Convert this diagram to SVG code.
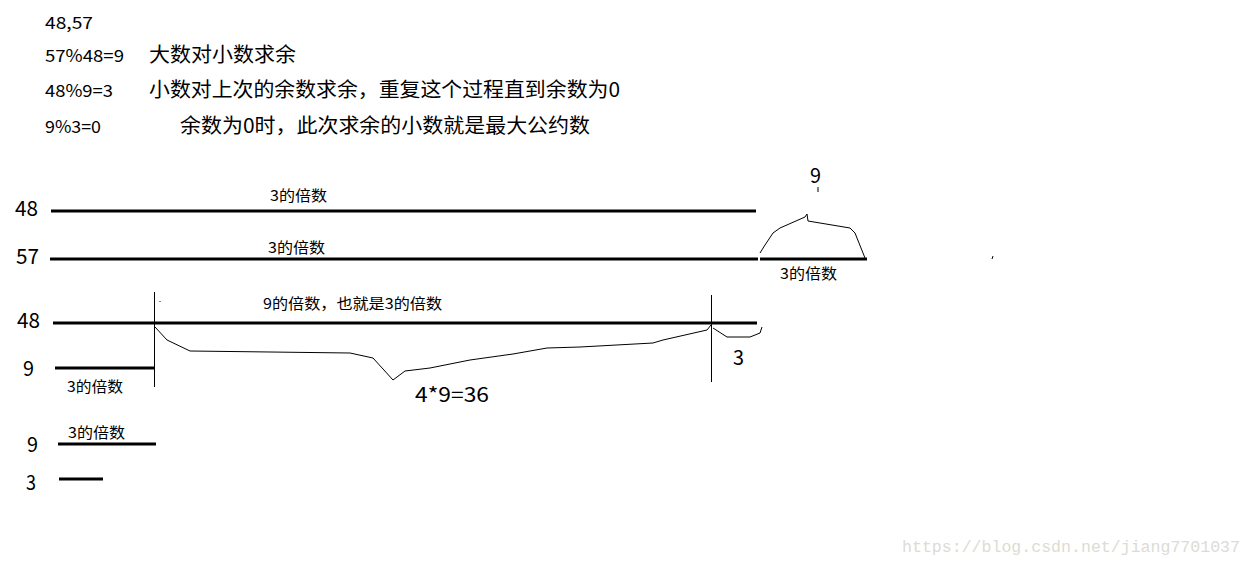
<svg xmlns="http://www.w3.org/2000/svg" width="1252" height="566" viewBox="0 0 1252 566">
<style>
.t{font-family:"Noto Sans CJK SC","Noto Sans",sans-serif;fill:#000}
.bar{stroke:#000;stroke-width:3;fill:none}
.thin{stroke:#000;stroke-width:1;fill:none}
.wm{font-family:"Liberation Mono",monospace;fill:#dcdcd4;font-size:16px}
</style>
<rect width="1252" height="566" fill="#fff"/>
<g id="notes">
<text class="t" x="45" y="29" font-size="17" textLength="48" lengthAdjust="spacingAndGlyphs">48,57</text>
<text class="t" x="45" y="62" font-size="17" textLength="79" lengthAdjust="spacingAndGlyphs">57%48=9</text>
<text class="t" x="149" y="62" font-size="20" textLength="147" lengthAdjust="spacingAndGlyphs">大数对小数求余</text>
<text class="t" x="45" y="97" font-size="17" textLength="68" lengthAdjust="spacingAndGlyphs">48%9=3</text>
<text class="t" x="149" y="97" font-size="20" textLength="471" lengthAdjust="spacingAndGlyphs">小数对上次的余数求余，重复这个过程直到余数为0</text>
<text class="t" x="45" y="133" font-size="17" textLength="56" lengthAdjust="spacingAndGlyphs">9%3=0</text>
<text class="t" x="180" y="133" font-size="20" textLength="410" lengthAdjust="spacingAndGlyphs">余数为0时，此次求余的小数就是最大公约数</text>
</g>
<g id="row1">
<text class="t" x="15" y="216" font-size="21" textLength="23" lengthAdjust="spacingAndGlyphs">48</text>
<line class="bar" x1="51" y1="211" x2="756" y2="211"/>
<text class="t" x="270" y="201" font-size="15" textLength="57" lengthAdjust="spacingAndGlyphs">3的倍数</text>
</g>
<g id="row2">
<text class="t" x="16" y="264" font-size="21" textLength="23" lengthAdjust="spacingAndGlyphs">57</text>
<line class="bar" x1="50" y1="259" x2="758" y2="259"/>
<line class="bar" x1="760" y1="259" x2="867" y2="259"/>
<text class="t" x="268" y="253" font-size="15" textLength="57" lengthAdjust="spacingAndGlyphs">3的倍数</text>
<text class="t" x="780" y="279" font-size="15" textLength="57" lengthAdjust="spacingAndGlyphs">3的倍数</text>
<text class="t" x="810" y="183" font-size="21" textLength="11" lengthAdjust="spacingAndGlyphs">9</text>
<path class="thin" d="M818,187 L818,192 M760,253 L765,245 L773,233 L780,228 L805,217 L807,214 L808,221 L850,228 L855,233 L865,258 M993,256 L992,259"/>
</g>
<g id="row3">
<text class="t" x="17" y="328" font-size="21" textLength="23" lengthAdjust="spacingAndGlyphs">48</text>
<line class="bar" x1="53" y1="323" x2="757" y2="323"/>
<line class="thin" x1="154.5" y1="292" x2="154.5" y2="387"/>
<line class="thin" x1="711.5" y1="295" x2="711.5" y2="382"/>
<text class="t" x="263" y="309" font-size="15" textLength="179" lengthAdjust="spacingAndGlyphs">9的倍数，也就是3的倍数</text>
<text class="t" x="23" y="376" font-size="21" textLength="11" lengthAdjust="spacingAndGlyphs">9</text>
<line class="bar" x1="55" y1="368" x2="154" y2="368"/>
<text class="t" x="67" y="392" font-size="15" textLength="56" lengthAdjust="spacingAndGlyphs">3的倍数</text>
<path class="thin" d="M155,327 L167,340 L190,351 L350,353 L373,358 L393,380 L405,371 L430,368 L470,360 L513,354 L547,348 L580,347 L653,343 L663,340 L707,330 L711,325"/>
<path class="thin" d="M713,328 L727,337 L750,337 L760,333 L762,327"/>
<text class="t" x="733" y="365" font-size="20" textLength="11" lengthAdjust="spacingAndGlyphs">3</text>
<text class="t" x="415" y="402" font-size="20" textLength="74" lengthAdjust="spacingAndGlyphs">4*9=36</text>
<path class="thin" d="M160,301 L160,302"/>
</g>
<g id="row4">
<text class="t" x="27" y="452" font-size="21" textLength="11" lengthAdjust="spacingAndGlyphs">9</text>
<line class="bar" x1="58" y1="444" x2="156" y2="444"/>
<text class="t" x="68" y="438" font-size="15" textLength="57" lengthAdjust="spacingAndGlyphs">3的倍数</text>
<text class="t" x="26" y="490" font-size="21" textLength="10" lengthAdjust="spacingAndGlyphs">3</text>
<line class="bar" x1="59" y1="479" x2="103" y2="479"/>
</g>
<text class="wm" x="902" y="552" textLength="338" lengthAdjust="spacingAndGlyphs">https://blog.csdn.net/jiang7701037</text>
</svg>
